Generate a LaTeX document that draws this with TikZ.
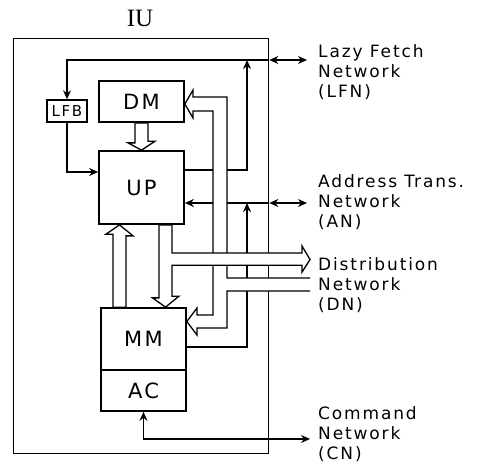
\documentclass[tikz,border=0pt]{standalone}
\usepackage{fontspec}
\setmainfont{DejaVu Sans}[LetterSpace=11]
\newfontfamily\iufont{Liberation Serif}
\usepackage{tikz}
\usetikzlibrary{arrows.meta, positioning}
\tikzstyle{arrow}   = [line width=1.4pt, -{Stealth[length=9pt, width=8pt]}]
\tikzstyle{biarrow} = [line width=1.4pt, {Stealth[length=9pt, width=8pt]}-{Stealth[length=9pt, width=8pt]}]

\begin{document}
\begin{tikzpicture}[x=1pt, y=-1pt]

\tikzset{
  unit/.style={rectangle, draw, line width=1.7pt,
    minimum width=85pt, minimum height=41pt, inner sep=0pt,
    font=\fontsize{21}{24}\selectfont},
  buffer/.style={rectangle, draw, line width=1.4pt,
    minimum width=40pt, minimum height=22pt, inner sep=0pt,
    font=\fontsize{15}{17}\selectfont},
  net/.style={anchor=west, align=left, inner sep=0pt,
    font=\fontsize{17}{20}\selectfont},
  pipe/.style={draw, line width=1.3pt, line join=miter, fill=white}
}

\useasboundingbox (0,0) rectangle (484,464);

% ---- INSTRUCTION UNIT ----
\node (iu) [draw, line width=1.3pt, inner sep=0pt, anchor=north west,
  minimum width=255pt, minimum height=415pt] at (13,38) {};
\node (iulabel) at (140,18) {\iufont\fontsize{25}{28}\selectfont IU};

% ---- UNITS ----
\node (dm)  [unit] at (141.5,101.5) {DM};
\node (up)  [unit, minimum height=73pt] at (141.5,187.5) {UP};
\node (mm)  [unit, minimum height=62pt] at (143.5,339) {MM};
\node (ac)  [unit, below=-1.7pt of mm] {AC};
\node (lfb) [buffer] at (67,111) {LFB};

% ---- NETWORKS (right) ----
\node (lfn) [net] at (318,72.5)  {Lazy Fetch\\Network\\(LFN)};
\node (an)  [net] at (318,202.5) {Address Trans.\\Network\\(AN)};
\node (dn)  [net] at (318,285.5) {Distribution\\Network\\(DN)};
\node (cn)  [net] at (318,434)   {Command\\Network\\(CN)};

% ---- TURNING POINTS ----
\coordinate (lfnend)  at (307,60);
\coordinate (anend)   at (307,203);
\coordinate (cnend)   at (310,439);
\coordinate (upturn)  at (247,170);
\coordinate (mmturn)  at (247,347);
\coordinate (lfbturn) at (66,172);
\coordinate (dnout)   at (310,259.5);

% ---- SIGNAL ARROWS ----
\draw[biarrow] (iu.east |- lfnend) -- (lfnend);
\draw[arrow] (iu.east |- lfnend) -| (lfb);
\draw[arrow] (lfb) |- (up.west |- lfbturn);
\draw[arrow] (up.east |- upturn) -- (upturn) -- (upturn |- lfnend);
\draw[biarrow] (iu.east |- anend) -- (anend);
\draw[arrow] (iu.east |- anend) -- (up.east |- anend);
\draw[arrow] (mm.east |- mmturn) -- (mmturn) -- (mmturn |- anend);
\draw[biarrow] (ac) |- (cnend);

% ---- DATA PATHS (hollow) ----
% from DN into DM and MM
\def\dnpipe{(310,278) -- (227,278) -- (227,97) -- (193,97) -- ++(0,-7)
  -- ([yshift=-2.5pt]dm.east) -- (193,118) -- ++(0,-7) -- (213,111)
  -- (213,315) -- (197,315) -- ++(0,-7) -- ([yshift=17.5pt]mm.east)
  -- (197,335) -- ++(0,-7) -- (227,328) -- (227,291) -- (310,291)}
\fill[white] \dnpipe -- cycle;
\draw[pipe, fill=none] \dnpipe;

% from UP into MM and DN
\draw[pipe] ([xshift=17.5pt]up.south) -- ++(0,73) -- ++(-6.5,0)
  -- ([xshift=22pt]mm.north) -- ++(13.5,-11) -- ++(-7,0) -- ++(0,-31)
  -- ++(130,0) -- ++(0,7) -- (dnout) -- ++(-8,-13.5) -- ++(0,7)
  -- ++(-130,0) -- ([xshift=30.5pt]up.south) -- cycle;

% DM into UP
\draw[pipe] ([xshift=-6.5pt]dm.south) -- ++(0,20) -- ++(-7,0) -- (up.north)
  -- ++(13.5,-9) -- ++(-7,0) -- ([xshift=6.5pt]dm.south) -- cycle;

% MM into UP
\draw[pipe] ([xshift=-30.5pt]mm.north) -- ++(0,-73) -- ++(-7,0)
  -- ([xshift=-22pt]up.south) -- ++(13.5,11) -- ++(-7,0)
  -- ([xshift=-17.5pt]mm.north) -- cycle;

\end{tikzpicture}
\end{document}
